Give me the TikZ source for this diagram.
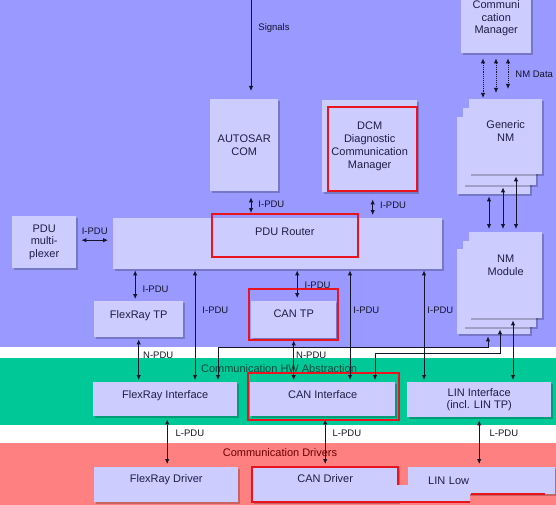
\documentclass[tikz,border=0pt]{standalone}
\usepackage{fontspec}
\setmainfont{Liberation Sans}
\usepackage{xcolor}
\definecolor{layerblue}{HTML}{9999FF}
\definecolor{layergreen}{HTML}{00C896}
\definecolor{layerred}{HTML}{FF8080}
\definecolor{modfill}{HTML}{CCCCFF}
\definecolor{modtext}{HTML}{1E1E44}
\definecolor{wirec}{HTML}{14142A}
\definecolor{hlred}{HTML}{E8141F}
\definecolor{hwgreen}{HTML}{0E4A3C}
\definecolor{drvred}{HTML}{6E0000}
\usepackage{tikz}
\usetikzlibrary{arrows.meta,shadows}

\begin{document}
\begin{tikzpicture}[x=1pt, y=-1pt,
  module/.style={fill=modfill, text=modtext, font=\fontsize{11}{12.8}\selectfont, align=center,
    inner sep=0pt, anchor=north west, drop shadow={shadow xshift=1.5pt, shadow yshift=-1.5pt, fill=black, opacity=.22}},
  hilite/.style={draw=hlred, line width=1.6pt},
  lbl/.style={font=\fontsize{9.5}{10.5}\selectfont, text=wirec, inner sep=2pt},
  layerlbl/.style={font=\fontsize{11}{12}\selectfont, inner sep=1pt},
  pdu/.style={{Latex[length=5pt,width=4.5pt]}-{Latex[length=5pt,width=4.5pt]}, draw=wirec, line width=0.9pt},
  sig/.style={-{Latex[length=5pt,width=4.5pt]}, draw=wirec, line width=0.9pt},
  nmdata/.style={pdu, densely dotted}]
  \useasboundingbox (0,0) rectangle (556,505);
  \clip (0,0) rectangle (556,505);
  \fill[white] (0,0) rectangle (556,505);
  \fill[layerblue] (0,0) rectangle (556,347);
  \fill[layergreen] (0,358) rectangle (556,425);
  \fill[layerred] (0,443) rectangle (556,505);

  \node[layerlbl, text=hwgreen] (hwlbl) at (279,369) {Communication HW Abstraction};
  \node[layerlbl, text=drvred] (drvlbl) at (280,453) {Communication Drivers};

  \node[module, minimum width=70pt, minimum height=70pt] (cm) at (461,-17) {Communi\\cation\\Manager};
  \node[module, minimum width=68pt, minimum height=92pt] (com) at (210,99) {AUTOSAR\\COM};
  \node[module, minimum width=95pt, minimum height=92pt] (dcm) at (322,100) {DCM\\Diagnostic\\Communication\\Manager};
  \node[module, minimum width=73pt, minimum height=77pt] (gnm3) at (457,117) {};
  \node[module, minimum width=73pt, minimum height=77pt] (gnm2) at (463,108) {};
  \node[module, minimum width=73pt, minimum height=75pt, text depth=11pt] (gnm) at (469,99) {Generic\\NM};
  \node[module, minimum width=64pt, minimum height=52pt] (mux) at (12,216) {PDU\\multi-\\plexer};
  \node[module, minimum width=329pt, minimum height=51pt] (router) at (113,218) {};
  \node[module, minimum width=73pt, minimum height=85pt] (nm3) at (457,249) {};
  \node[module, minimum width=73pt, minimum height=86pt] (nm2) at (463,241) {};
  \node[module, minimum width=73pt, minimum height=86pt, text depth=20pt] (nm) at (469,232) {NM\\Module};
  \node[module, minimum width=89pt, minimum height=36pt, text depth=10pt] (frtp) at (94,301) {FlexRay TP};
  \node[module, minimum width=85pt, minimum height=37pt, text depth=12pt] (cantp) at (251,301) {CAN TP};
  \node[module, minimum width=144pt, minimum height=34pt, text depth=10pt] (frif) at (93,382) {FlexRay Interface};
  \node[module, minimum width=145pt, minimum height=34pt, text depth=10pt] (canif) at (250,382) {CAN Interface};
  \node[module, minimum width=144pt, minimum height=35pt] (linif) at (407,382) {LIN Interface\\(incl. LIN TP)};
  \node[module, minimum width=144pt, minimum height=35pt, text depth=12pt] (frdrv) at (94,467) {FlexRay Driver};
  \node[module, minimum width=146pt, minimum height=35pt, text depth=12pt] (candrv) at (252,467) {CAN Driver};
  \node[module, minimum height=27pt, text width=107pt, inner xsep=20pt, align=left] (linlow) at (408,467) {LIN Low};
  \fill[modfill] (252,485) rectangle (470,502);
  \fill[modfill] (398,485) rectangle (555,494);

  \node[hilite, anchor=north west, minimum width=146pt, minimum height=43pt, text depth=7pt,
    font=\fontsize{11}{12.8}\selectfont, text=modtext] (routerhl) at (211,213) {PDU Router};
  \draw[hilite] (328,107) rectangle (417,191);
  \draw[hilite] (249,289) rectangle (338,340);
  \draw[hilite] (248,373) rectangle (399,420);
  \draw[hilite] (398,485) -- (398,467) -- (252,467) -- (252,502) -- (470,502);
  \draw[hilite] (471,494) -- (545,494);

  \coordinate (sigtop) at (251,0);
  \draw[sig, shorten >=8pt] (sigtop) -- (com.north -| sigtop) node[lbl, right=5pt, pos=.28] {Signals};
  \draw[pdu, shorten <=6pt, shorten >=5pt] (com.south -| sigtop) -- (router.north -| sigtop) node[lbl, right=5pt, midway] {I-PDU};
  \draw[pdu, shorten <=7pt, shorten >=3pt] ([xshift=3pt]dcm.south) -- ([xshift=3pt]dcm.south |- router.north) node[lbl, right=5pt, midway] {I-PDU};
  \draw[pdu, shorten <=5pt, shorten >=5pt] ([yshift=2pt]mux.east) -- ([yshift=2pt]mux.east -| router.west) node[lbl, above=3pt, midway] {I-PDU};

  \draw[pdu, shorten <=1pt, shorten >=2pt] ([xshift=-3.5pt]frtp.north |- router.south) -- ([xshift=-3.5pt]frtp.north) node[lbl, right=5pt, pos=.62] {I-PDU};
  \draw[pdu, shorten <=1pt, shorten >=3pt] ([xshift=3.5pt]cantp.north |- router.south) -- ([xshift=3.5pt]cantp.north) node[lbl, right=5pt, pos=.5] {I-PDU};
  \draw[pdu, shorten <=1pt, shorten >=2pt] (router.south -| 195,0) -- (frif.north -| 195,0) node[lbl, right=5pt, pos=.36] {I-PDU};
  \draw[pdu, shorten <=1pt, shorten >=2pt] (router.south -| 350,0) -- (canif.north -| 350,0) node[lbl, right=1pt, pos=.36] {I-PDU};
  \draw[pdu, shorten <=1pt, shorten >=2pt] (router.south -| 424,0) -- (linif.north -| 424,0) node[lbl, right=1pt, pos=.36] {I-PDU};

  \draw[pdu, shorten <=2pt, shorten >=2pt] (frtp.south) -- (frtp.south |- frif.north) node[lbl, right=2pt, pos=.4] {N-PDU};
  \draw[pdu, shorten <=2pt, shorten >=2pt] (cantp.south) -- (cantp.south |- canif.north) node[lbl, right=0pt, pos=.39] {N-PDU};

  \draw[pdu, shorten <=3pt, shorten >=3pt] ([xshift=2pt]frif.south) -- ([xshift=2pt]frif.south |- frdrv.north) node[lbl, right=6pt, pos=.33] {L-PDU};
  \draw[pdu, shorten <=3pt, shorten >=3pt] (candrv.north |- canif.south) -- (candrv.north) node[lbl, right=5pt, pos=.33] {L-PDU};
  \draw[pdu, shorten <=3pt, shorten >=3pt] (linif.south) -- (linif.south |- linlow.north) node[lbl, right=8pt, pos=.33] {L-PDU};

  \coordinate (nmbusa) at (218,347);
  \coordinate (nmbusb) at (375,353);
  \draw[pdu, shorten <=2pt, shorten >=2pt] (nm3.south -| 488,0) |- (nmbusa) -- (frif.north -| nmbusa);
  \draw[pdu, shorten <=2pt, shorten >=2pt] (nm2.south -| 500,0) |- (nmbusb) -- (canif.north -| nmbusb);
  \draw[pdu, shorten <=2pt, shorten >=2pt] (nm.south -| 513,0) -- (linif.north -| 513,0);

  \draw[pdu, shorten <=2pt, shorten >=3pt] (gnm3.south -| 489,0) -- (nm.north -| 489,0);
  \draw[pdu, shorten <=2pt, shorten >=3pt] (gnm2.south -| 503,0) -- (nm.north -| 503,0);
  \draw[pdu, shorten <=2pt, shorten >=3pt] (gnm.south -| 516,0) -- (nm.north -| 516,0);

  \draw[nmdata, shorten <=5pt, shorten >=1pt] (cm.south -| 483,0) -- (gnm.north -| 483,0);
  \draw[nmdata, shorten <=5pt, shorten >=6pt] (cm.south -| 496,0) -- (gnm.north -| 496,0);
  \draw[nmdata, shorten <=5pt, shorten >=10pt] (cm.south -| 508,0) -- (gnm.north -| 508,0) node[lbl, right=5pt, pos=.45] {NM Data};
\end{tikzpicture}
\end{document}
